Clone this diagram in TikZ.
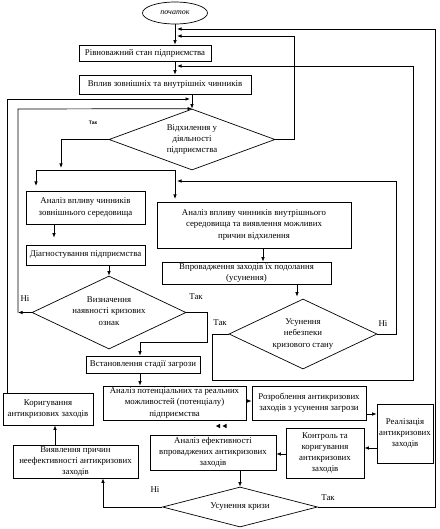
\documentclass[tikz,border=0pt]{standalone}
\usepackage{fontspec}
\setmainfont{Liberation Serif}
\newfontfamily\labsans{Liberation Sans}
\usetikzlibrary{arrows.meta,shapes.geometric}
\newcommand\fs{\fontsize{8.8}{11.2}\selectfont}
\tikzset{
  box/.style={draw, rectangle, line width=0.7pt, inner sep=1pt, align=center, font=\fs},
  dia/.style={draw, diamond, line width=0.7pt, inner sep=0pt},
  dtext/.style={align=center, font=\fs, inner sep=0pt},
  lab/.style={font=\fs, inner sep=0pt},
  ln/.style={line width=0.7pt},
  arr/.style={line width=0.7pt, -{Latex[length=4.5pt,width=3.5pt]}},
}
\begin{document}
\begin{tikzpicture}[x=1pt,y=-1pt]
\useasboundingbox (0,0) rectangle (439,529);

% nodes
\node[draw, ellipse, line width=0.7pt, minimum width=65pt, minimum height=22pt, inner sep=0pt, font=\fontsize{8}{9}\selectfont\itshape] (ell) at (175,13) {початок};
\node[box, minimum width=132pt, minimum height=16pt] (b1) at (145,53) {Рівноважний стан підприємства};
\node[box, minimum width=172pt, minimum height=19pt] (b2) at (165,84.5) {Вплив зовнішніх та внутрішніх чинників};
\node[dia, minimum width=166pt, minimum height=61pt] (d1) at (192,139.5) {};
\node[dtext] (d1t) at (d1) {Відхилення у\\діяльності\\підприємства};
\node[box, minimum width=119pt, minimum height=33pt] (b3) at (85.5,207.5) {Аналіз впливу чинників\\зовнішнього середовища};
\node[box, minimum width=194pt, minimum height=46pt] (b4) at (254,225) {Аналіз впливу чинників внутрішнього\\середовища та виявлення можливих\\причин відхилення};
\node[box, minimum width=119pt, minimum height=20pt] (b5) at (85.5,255) {Діагностування підприємства};
\node[box, minimum width=169pt, minimum height=22pt] (b6) at (246.5,273) {Впровадження заходів їх подолання\\(усунення)};
\node[dia, minimum width=154pt, minimum height=73pt] (d2) at (109,312.5) {};
\node[dtext] (d2t) at (109,311) {Визначення\\наявності кризових\\ознак};
\node[dia, minimum width=148pt, minimum height=70pt] (d3) at (303,334) {};
\node[dtext] (d3t) at (d3) {Усунення\\небезпеки\\кризового стану};
\node[box, minimum width=114pt, minimum height=17pt] (b7) at (143,364.5) {Встановлення стадії загрози};
\node[box, minimum width=143pt, minimum height=34pt] (b8) at (174.5,403) {Аналіз потенціальних та реальних\\можливостей (потенціалу)\\підприємства};
\node[box, minimum width=114pt, minimum height=34pt] (b9) at (309,403) {Розроблення антикризових\\заходів з усунення загрози};
\node[box, minimum width=56pt, minimum height=59pt] (b10) at (405,433.5) {Реалізація\\антикризових\\заходів};
\node[box, minimum width=78pt, minimum height=50pt] (b11) at (325,453) {Контроль та\\коригування\\антикризових\\заходів};
\node[box, minimum width=126pt, minimum height=35pt] (b12) at (213,452.5) {Аналіз ефективності\\впроваджених антикризових\\заходів};
\node[dia, minimum width=155pt, minimum height=40pt] (d4) at (240,507) {};
\node[dtext] (d4t) at (d4) {Усунення кризи};
\node[box, minimum width=125pt, minimum height=33pt] (b13) at (75.5,461.5) {Виявлення причин\\неефективності антикризових\\заходів};
\node[box, minimum width=90pt, minimum height=32pt] (b14) at (48,409) {Коригування\\антикризових заходів};

% labels
\node[font=\fontsize{5}{6}\selectfont\labsans\bfseries, inner sep=0pt] (l0) at (93,123) {Так};
\node[lab] (l1) at (25,299) {Ні};
\node[lab] (l2) at (196,297) {Так};
\node[lab] (l3) at (220,323) {Так};
\node[lab] (l4) at (383,324) {Ні};
\node[lab] (l5) at (155,490) {Ні};
\node[lab] (l6) at (328,498) {Так};

% junction coordinates
\coordinate (j29) at (177,29);
\coordinate (j36) at (177,36);
\coordinate (j66) at (177,66);
\coordinate (j99) at (190,99);
\coordinate (j181) at (177,181);

% connectors
\draw[arr] (ell.south) -- (ell.south |- b1.north);
\draw[arr] (ell.south |- b1.south) -- (ell.south |- b2.north);
\draw[arr] (d1.north |- b2.south) -- (d1.north);
\draw[arr] (d4.east) -- (435,507) -- (435,29) -- (j29);
\draw[arr] (d1.east) -- (294,139.5) -- (294,36) -- (j36);
\draw[arr] (d3.west) -- (212,334) -- (212,380) -- (413,380) -- (413,66) -- (j66);
\draw[arr] ([xshift=-41pt]b14.north) -- (7,99) -- (j99);
\draw[arr] (d2.west) -- (18,312.5);
\draw[arr] (18,312.5) -- (18,109) -- (d1.north);
\draw[arr] (d1.west) -- (61,139.5) -- (61,168);
\draw[ln] (36,170) -- (175,170);
\draw[arr, shorten >=5pt] (36,170) -- (36,191);
\draw[arr, shorten >=3pt] (175,170) -- (175,202);
\draw[arr] (d3.east) -- (396,334) -- (396,181) -- (j181);
\draw[arr, shorten >=7pt] ([xshift=-31.5pt]b3.south) -- ([xshift=-31.5pt]b5.north);
\draw[arr] ([xshift=9pt]b4.south) -- ([xshift=9pt]b4.south |- b6.north);
\draw[arr] (d2.north |- b5.south) -- (d2.north);
\draw[arr, shorten >=2pt] ([xshift=50.5pt]b6.south) -- ([xshift=50.5pt]b6.south |- d3.north);
\draw[arr] (d2.east) -- (207,312.5) -- (207,342) -- (140,342) -- ([xshift=-3pt]b7.north);
\draw[arr] ([xshift=-3pt]b7.south) -- ([xshift=-3pt]b7.south |- b8.north);
\draw[arr] ([yshift=2pt]b8.east) -- ([yshift=2pt]b8.east -| b9.west);
\draw[arr] ([yshift=-11pt]b9.east) -- ([yshift=-11pt]b9.east -| b10.west);
\draw[arr] ([yshift=-14.5pt]b10.west) -- ([yshift=-14.5pt]b10.west -| b11.east);
\draw[arr] ([yshift=-1pt]b11.west) -- ([yshift=-1pt]b11.west -| b12.east);
\draw[arr] (d4.north |- b12.south) -- (d4.north);
\draw[arr] (d4.west) -- (103,507) -- ([xshift=27.5pt]b13.south);
\draw[arr] ([xshift=-20.5pt]b13.north) -- ([xshift=-20.5pt]b13.north |- b14.south);

% stray arrowheads
\fill (216,426) -- (220,423.8) -- (220,428.2) -- cycle;
\fill (222.5,426) -- (226.5,423.8) -- (226.5,428.2) -- cycle;
\end{tikzpicture}
\end{document}
